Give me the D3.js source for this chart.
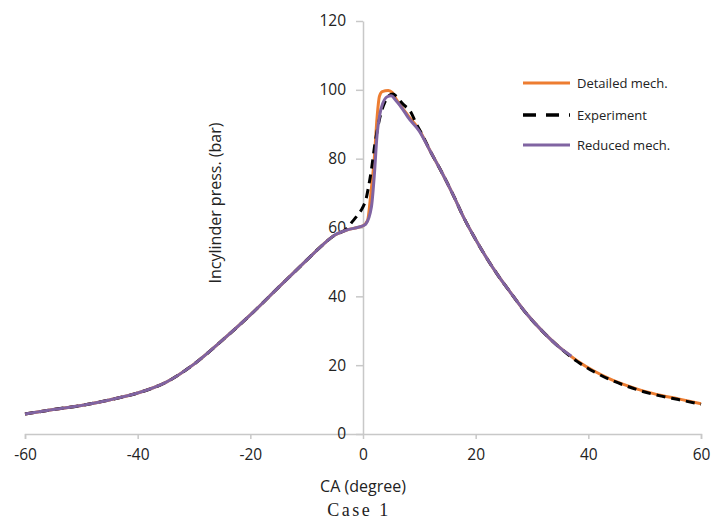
<!DOCTYPE html>
<html><head><meta charset="utf-8">
<script src="https://cdn.jsdelivr.net/npm/d3@7"></script>
<style>
body{margin:0;background:#fff;}
svg{display:block;}
text{font-family:"Open Sans",sans-serif;fill:#222;}
</style></head>
<body>
<svg id="c" width="715" height="526"></svg>
<script>
// Crank angle (degree) and in-cylinder pressure (bar)
const detailedCA = [-60,-55,-50,-45,-40,-35,-30,-25,-20,-15,-10,-7,-5,-3,-1,0,0.8,1.4,2.0,2.5,2.9,3.4,4.5,5.2,6,8,10,12,14,16,18,20,22,24,26,29,32,35,38,41,44,47,50,53,56,60];
const detailedP  = [5.8,7.1,8.3,9.9,11.9,15.0,20.3,27.2,34.6,42.6,50.5,55.2,57.8,59.2,60.0,60.5,62,70,80,92,98,99.5,99.8,99.2,97,92.5,88.3,82,76,69.5,62.5,56.5,51,46,41.5,35,29.6,25,21.3,18.3,15.9,14,12.4,11.2,10.2,8.8];

const experimentCA = [-60,-55,-50,-45,-40,-35,-30,-25,-20,-15,-10,-7,-5,-3,-2,-1,0,0.5,1,1.6,2,2.5,3,3.9,4.6,5.3,6,7,8.5,9.5,10.5,12,14,16,18,20,22,24,26,29,32,35,38,41,44,47,50,53,56,60];
const experimentP  = [5.8,7.1,8.3,9.9,11.9,15.0,20.3,27.2,34.6,42.6,50.5,55.2,57.8,59.5,61.5,63.5,66,68,72,78,83,88,92,96.5,98.3,98.8,98,96,93.5,90,87,82,76,69.5,62.5,56.5,51,46,41.5,35,29.6,25,21.1,18.1,15.7,13.8,12.2,11,10,8.6];

const reducedCA = [-60,-55,-50,-45,-40,-35,-30,-25,-20,-15,-10,-7,-5,-3,-1,0,0.5,1.5,2,2.5,3,3.5,4.3,5,5.8,7,8,10,12,14,16,18,20,22,24,26,29,32,35,37];
const reducedP  = [5.8,7.1,8.3,9.9,11.9,15.0,20.3,27.2,34.6,42.6,50.5,55.2,57.8,59.2,60.0,60.5,61,66,75,87,93,96,98,98.3,97,94.5,92,88,82,76,69.5,62.5,56.5,51,46,41.5,35,29.6,25,22.6];

const xTicks = [-60,-40,-20,0,20,40,60];
const yTicks = [0,20,40,60,80,100,120];
const seriesNames = ["Detailed mech.","Experiment","Reduced mech."];
const seriesColors = ["#ED7D31","#000000","#8064A2"];

const svg = d3.select("#c");
const x = d3.scaleLinear().domain([-60,60]).range([25,701]);
const y = d3.scaleLinear().domain([0,120]).range([434,21]);
const fmt = d => String(d);

// X axis at y=0
const xAxis = svg.append("g").attr("transform",`translate(0,${y(0)})`)
  .call(d3.axisBottom(x).tickValues(xTicks).tickSize(5).tickPadding(10).tickFormat(fmt));
xAxis.select(".domain").attr("stroke","#c8c8c8").attr("stroke-width",1.5);
xAxis.selectAll(".tick line").attr("stroke","#c8c8c8").attr("stroke-width",1.5);
xAxis.selectAll(".tick text").attr("font-size",15.5).attr("font-family","Open Sans").attr("fill","#222");
// Y axis at x=0
const yAxis = svg.append("g").attr("transform",`translate(${x(0)},0)`)
  .call(d3.axisLeft(y).tickValues(yTicks).tickSize(7).tickSizeOuter(0).tickPadding(10).tickFormat(fmt));
yAxis.select(".domain").attr("stroke","#c8c8c8").attr("stroke-width",1.5);
yAxis.selectAll(".tick line").attr("stroke","#c8c8c8").attr("stroke-width",1.5);
yAxis.selectAll(".tick text").attr("font-size",15.5).attr("font-family","Open Sans").attr("fill","#222");

const line = d3.line().x(d=>x(d[0])).y(d=>y(d[1])).curve(d3.curveMonotoneX);
const zip = (a,b)=>a.map((v,i)=>[v,b[i]]);

svg.append("path").datum(zip(detailedCA,detailedP)).attr("d",line)
  .attr("fill","none").attr("stroke",seriesColors[0]).attr("stroke-width",3);
svg.append("path").datum(zip(experimentCA,experimentP)).attr("d",line)
  .attr("fill","none").attr("stroke",seriesColors[1]).attr("stroke-width",3).attr("stroke-dasharray","9,6");
svg.append("path").datum(zip(reducedCA,reducedP)).attr("d",line)
  .attr("fill","none").attr("stroke",seriesColors[2]).attr("stroke-width",3);

// Legend
const lg = svg.append("g");
const ly = [83,115,145];
seriesNames.forEach((n,i)=>{
  const l = lg.append("line").attr("x1",523).attr("x2",570).attr("y1",ly[i]).attr("y2",ly[i])
    .attr("stroke",seriesColors[i]).attr("stroke-width",3);
  if(i===1) l.attr("stroke-dasharray","13,10").attr("stroke-width",3.5);
  lg.append("text").attr("x",577).attr("y",ly[i]).attr("dy","0.35em").attr("font-size",13).text(n);
});

// Titles
svg.append("text").attr("transform","translate(215,203) rotate(-90)").attr("text-anchor","middle")
  .attr("dy","0.35em").attr("font-size",16).text("Incylinder press. (bar)");
svg.append("text").attr("x",363).attr("y",492).attr("text-anchor","middle").attr("font-size",16).text("CA (degree)");
svg.append("text").attr("x",359).attr("y",516).attr("text-anchor","middle")
  .style("font-family","'Liberation Serif','Times New Roman',serif").attr("font-size",18).attr("letter-spacing",2.5).attr("fill","#333").text("Case 1");
</script>
</body></html>
